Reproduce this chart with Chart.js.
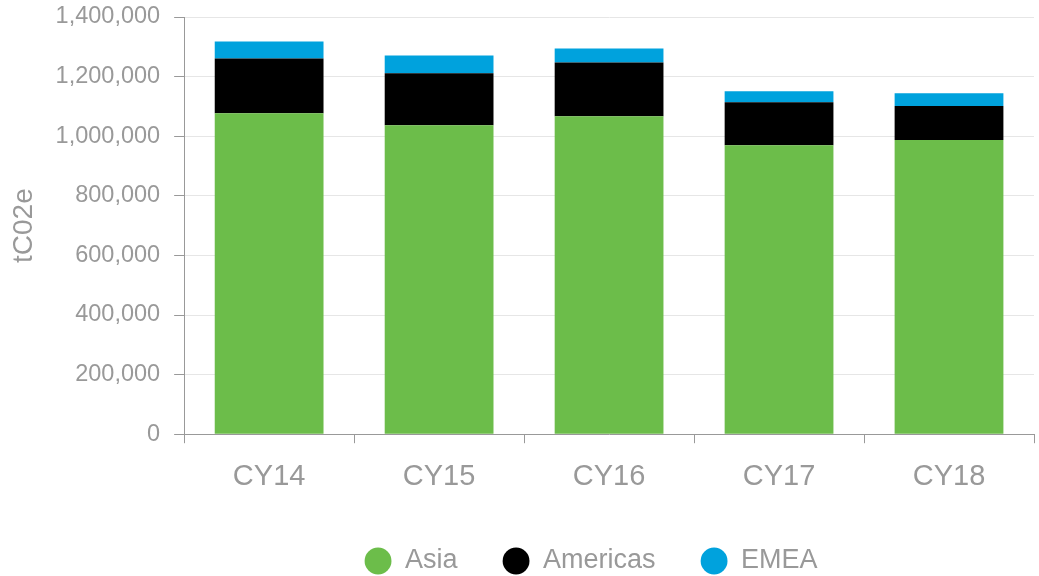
<!DOCTYPE html>
<html>
<head>
<title>tC02e by region</title>
<meta charset="UTF-8">
<script src="https://cdn.jsdelivr.net/npm/chart.js"></script>
<style>
  html, body { margin: 0; padding: 0; background: #fff; }
  #wrap { width: 1039px; height: 576px; }
</style>
</head>
<body>
<div id="wrap"><canvas id="emissions"></canvas></div>
<script>
// values
const years = ["CY14", "CY15", "CY16", "CY17", "CY18"];
const asia = [1077000, 1037000, 1067000, 970000, 987000];
const americas = [184000, 174000, 180000, 144000, 114000];
const emea = [57000, 60000, 47000, 37000, 43000];

const grey = "#999999";
const font = "'Liberation Sans', Arial, sans-serif";

// legend padding also sets the gap under it; trim that gap so the legend sits low,
// and centre it nearer the plot than the whole canvas
const legendTrim = {
  id: "legendTrim",
  beforeInit(chart) {
    if (!chart.legend) return;
    const fit = chart.legend.fit;
    chart.legend.fit = function () {
      fit.call(this);
      this.height -= 8.5;
    };
  },
  afterLayout(chart) {
    const lg = chart.legend;
    if (!lg) return;
    lg.left = chart.chartArea.left - 36;
    lg.right = chart.chartArea.right;
  }
};

new Chart(document.getElementById("emissions").getContext("2d"), {
  type: "bar",
  data: {
    labels: years,
    datasets: [
      { label: "Asia", data: asia, backgroundColor: "#6cbd4a" },
      { label: "Americas", data: americas, backgroundColor: "#000000" },
      { label: "EMEA", data: emea, backgroundColor: "#00a2dd" }
    ]
  },
  plugins: [legendTrim],
  options: {
    responsive: true,
    maintainAspectRatio: false,
    animation: false,
    categoryPercentage: 1,
    barPercentage: 0.64,
    layout: { padding: { top: 0, right: 5, left: 4, bottom: 0 } },
    plugins: {
      tooltip: { enabled: false },
      legend: {
        position: "bottom",
        labels: {
          usePointStyle: true,
          pointStyle: "circle",
          boxWidth: 27,
          boxHeight: 19,
          padding: 45,
          color: grey,
          font: { family: font, size: 27 }
        }
      }
    },
    scales: {
      x: {
        stacked: true,
        grid: { drawOnChartArea: false, tickLength: 9, color: grey },
        border: { color: grey },
        ticks: { color: grey, padding: 16, font: { family: font, size: 29 } },
        afterFit: (scale) => { scale.height -= 7.5; }
      },
      y: {
        stacked: true,
        min: 0,
        max: 1400000,
        ticks: { stepSize: 200000, color: grey, padding: 14, font: { family: font, size: 23.5, lineHeight: 1 } },
        grid: { color: "#e6e6e6", tickColor: grey, tickLength: 10 },
        border: { color: grey },
        title: { display: true, text: "tC02e", color: grey, font: { family: font, size: 28 }, padding: { top: 3, bottom: 1 } },
        afterFit: (scale) => { scale.paddingTop = 17; }
      }
    }
  }
});
</script>
</body>
</html>
